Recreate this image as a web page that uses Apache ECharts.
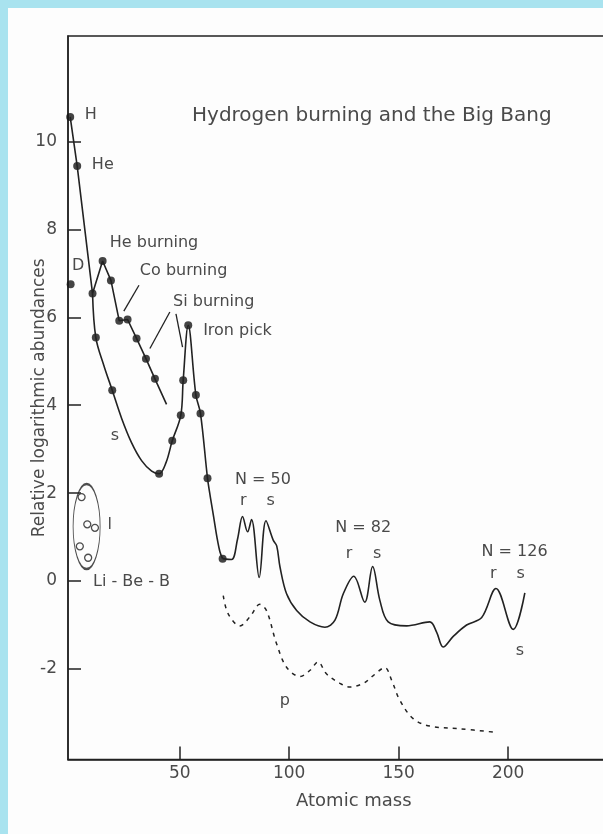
<!DOCTYPE html>
<html>
<head>
<meta charset="utf-8">
<script src="https://cdn.jsdelivr.net/npm/echarts@6/dist/echarts.min.js"></script>
<style>
  html, body { margin: 0; padding: 0; background: #a9e3ef; overflow: hidden; width: 603px; height: 834px; }
  #panel { position: absolute; left: 8px; top: 8px; width: 595px; height: 826px; background: #fdfdfd; }
  #chart { position: absolute; left: 0; top: 0; width: 603px; height: 834px; }
</style>
</head>
<body>
<div id="panel"></div>
<div id="chart"></div>
<script>
// Axis ticks
const xTicks = [50, 100, 150, 200];
const yTicks = [-2, 0, 2, 4, 6, 8, 10];

// H, He and the burning chain (straight segments between measured nuclei)
const burningChain = [[0.0, 10.56], [3.2, 9.44], [10.2, 6.54], [14.8, 7.28], [18.6, 6.84],
  [22.4, 5.92], [26.2, 5.95], [30.3, 5.52], [34.6, 5.06], [38.7, 4.60], [44.0, 4.02]];
const burningDots = [[0.0, 10.56], [3.2, 9.44], [10.2, 6.54], [14.8, 7.28], [18.6, 6.84],
  [22.4, 5.92], [26.2, 5.95], [30.3, 5.52], [34.6, 5.06], [38.7, 4.60]];
const deuterium = [[0.2, 6.75]];

// s-process branch through the iron peak
const sCurve = [[10.2, 6.54], [11.7, 5.54], [15.4, 4.90], [19.2, 4.34], [23.5, 3.70], [28.0, 3.15],
  [32.6, 2.74], [37.2, 2.50], [40.6, 2.44], [43.8, 2.70], [46.6, 3.19], [50.5, 3.77],
  [51.6, 4.57], [53.9, 5.82], [57.4, 4.23], [59.5, 3.81], [62.7, 2.34], [64.0, 1.91], [65.5, 1.46],
  [67.0, 1.00], [68.4, 0.66], [69.6, 0.51]];
const sDots = [[11.7, 5.54], [19.2, 4.34], [40.6, 2.44], [46.6, 3.19], [50.5, 3.77], [51.6, 4.57],
  [53.9, 5.82], [57.4, 4.23], [59.5, 3.81], [62.7, 2.34], [69.6, 0.51]];

// Heavy elements: closed-shell peaks at N = 50, 82, 126
const heavyCurve = [[69.6, 0.51], [73.7, 0.49], [76.4, 0.95], [78.7, 1.47], [81.0, 1.12], [82.8, 1.40],
  [86.3, 0.08], [89.4, 1.37], [92.7, 0.93], [94.3, 0.80], [95.8, 0.32], [98.8, -0.29], [103.4, -0.67],
  [109.5, -0.93], [116.3, -1.05], [120.9, -0.89], [124.7, -0.29], [129.5, 0.11], [134.5, -0.48],
  [138.1, 0.33], [141.4, -0.44], [145.2, -0.93], [153.6, -1.02], [164.2, -0.93], [167.3, -1.16],
  [170.3, -1.50], [174.9, -1.26], [181.0, -1.00], [187.9, -0.83], [194.4, -0.17], [202.3, -1.10],
  [207.6, -0.27]];

// p-process nuclei
const pCurve = [[69.9, -0.33], [72.1, -0.74], [77.5, -1.02], [82.0, -0.82], [86.6, -0.53], [89.7, -0.68],
  [94.2, -1.42], [98.8, -1.96], [104.9, -2.17], [109.5, -2.03], [113.2, -1.84], [117.0, -2.11],
  [123.2, -2.33], [127.7, -2.41], [133.8, -2.33], [138.4, -2.15], [143.7, -1.97], [146.8, -2.26],
  [150.5, -2.71], [156.6, -3.13], [164.2, -3.30], [177.9, -3.36], [193.9, -3.44]];

// Li, Be, B (open circles) and the group they form
const lightElements = [[5.2, 1.91], [7.8, 1.29], [11.3, 1.21], [4.4, 0.79], [8.2, 0.53]];
const lightGroupCentre = [[7.5, 1.24]];

// Annotations: [text, atomic mass, abundance, alignment]
const notes = [
  ['H', 6.7, 10.6, 'left'], ['He', 9.9, 9.46, 'left'], ['D', 0.8, 7.17, 'left'],
  ['He burning', 18.1, 7.70, 'left'], ['Co burning', 31.8, 7.05, 'left'],
  ['Si burning', 47.0, 6.35, 'left'], ['Iron pick', 60.7, 5.70, 'left'],
  ['s', 20.4, 3.30, 'center'], ['l', 18.1, 1.27, 'center'], ['Li - Be - B', 10.4, -0.02, 'left'],
  ['N = 50', 88.0, 2.31, 'center'], ['r', 79.0, 1.82, 'center'], ['s', 91.5, 1.82, 'center'],
  ['N = 82', 133.8, 1.21, 'center'], ['r', 127.3, 0.61, 'center'], ['s', 140.2, 0.61, 'center'],
  ['N = 126', 202.9, 0.66, 'center'], ['r', 193.2, 0.17, 'center'], ['s', 205.7, 0.17, 'center'],
  ['s', 205.3, -1.58, 'center'], ['p', 98.0, -2.72, 'center']
];
// Leader lines from labels to the curve
const leaders = [
  [[31.4, 6.73], [24.5, 6.14]],
  [[45.5, 6.12], [36.4, 5.29]],
  [[48.3, 6.08], [51.3, 5.32]]
];

const ink = '#222';
const textInk = '#4a4a4a';
const font = '"DejaVu Sans", "Open Sans", sans-serif';

const chart = echarts.init(document.getElementById('chart'), null, { renderer: 'canvas' });

chart.setOption({
  animation: false,
  backgroundColor: 'transparent',
  title: {
    text: 'Hydrogen burning and the Big Bang',
    left: 187, top: 101,
    textStyle: { fontFamily: font, fontWeight: 'normal', fontSize: 20, color: textInk }
  },
  grid: { left: 68, top: 36, width: 571.6, bottom: 74.5, outerBoundsMode: 'none',
    show: true, borderColor: ink, borderWidth: 1.5 },
  xAxis: {
    type: 'value', min: -1, max: 260,
    name: 'Atomic mass', nameLocation: 'middle', nameGap: 33,
    nameTextStyle: { fontFamily: font, fontSize: 18, color: textInk },
    axisLine: { onZero: false, lineStyle: { color: ink, width: 1.5 } },
    axisTick: { inside: true, length: 13, customValues: xTicks, lineStyle: { color: ink, width: 1.5 } },
    axisLabel: { customValues: xTicks, margin: 6, fontFamily: font, fontSize: 17, color: textInk },
    splitLine: { show: false }
  },
  yAxis: {
    type: 'value', min: -4.06, max: 12.4,
    name: 'Relative logarithmic abundances', nameLocation: 'middle', nameGap: 20, nameRotate: 90,
    nameMoveOverlap: false,
    nameTextStyle: { fontFamily: font, fontSize: 17, color: textInk },
    axisLine: { onZero: false, lineStyle: { color: ink, width: 1.5 } },
    axisTick: { inside: true, length: 13, customValues: yTicks, lineStyle: { color: ink, width: 1.5 } },
    axisLabel: { customValues: yTicks, margin: 11, fontFamily: font, fontSize: 17, color: textInk },
    splitLine: { show: false }
  },
  series: [
    { type: 'line', data: burningChain, showSymbol: false, smooth: false,
      lineStyle: { color: ink, width: 1.6 } },
    { type: 'line', data: sCurve, showSymbol: false, smooth: 0.35,
      lineStyle: { color: ink, width: 1.6 } },
    { type: 'line', data: heavyCurve, showSymbol: false, smooth: 0.35,
      lineStyle: { color: ink, width: 1.6 } },
    { type: 'line', data: pCurve, showSymbol: false, smooth: 0.35,
      lineStyle: { color: ink, width: 1.5, type: [4, 5] } },
    { type: 'scatter', data: burningDots.concat(sDots, deuterium), symbolSize: 8,
      itemStyle: { color: '#151515' } },
    { type: 'scatter', data: lightElements, symbolSize: 7,
      itemStyle: { color: '#fdfdfd', borderColor: ink, borderWidth: 1.3 } },
    { type: 'scatter', data: lightGroupCentre, symbolSize: [27, 85],
      itemStyle: { color: 'rgba(0,0,0,0)', borderColor: ink, borderWidth: 1.5 } }
  ]
});

// Place annotation text and leader lines in data coordinates
const toPx = (a, v) => chart.convertToPixel({ gridIndex: 0 }, [a, v]);
const graphics = notes.map(([txt, a, v, align]) => {
  const [px, py] = toPx(a, v);
  return { type: 'text', x: px, y: py,
    style: { text: txt, fill: textInk, font: '16px ' + font, textAlign: align, textVerticalAlign: 'middle' } };
});
leaders.forEach(([p0, p1]) => {
  const [x1, y1] = toPx(p0[0], p0[1]);
  const [x2, y2] = toPx(p1[0], p1[1]);
  graphics.push({ type: 'line', shape: { x1, y1, x2, y2 }, style: { stroke: ink, lineWidth: 1.3 } });
});
chart.setOption({ graphic: graphics });
</script>
</body>
</html>
